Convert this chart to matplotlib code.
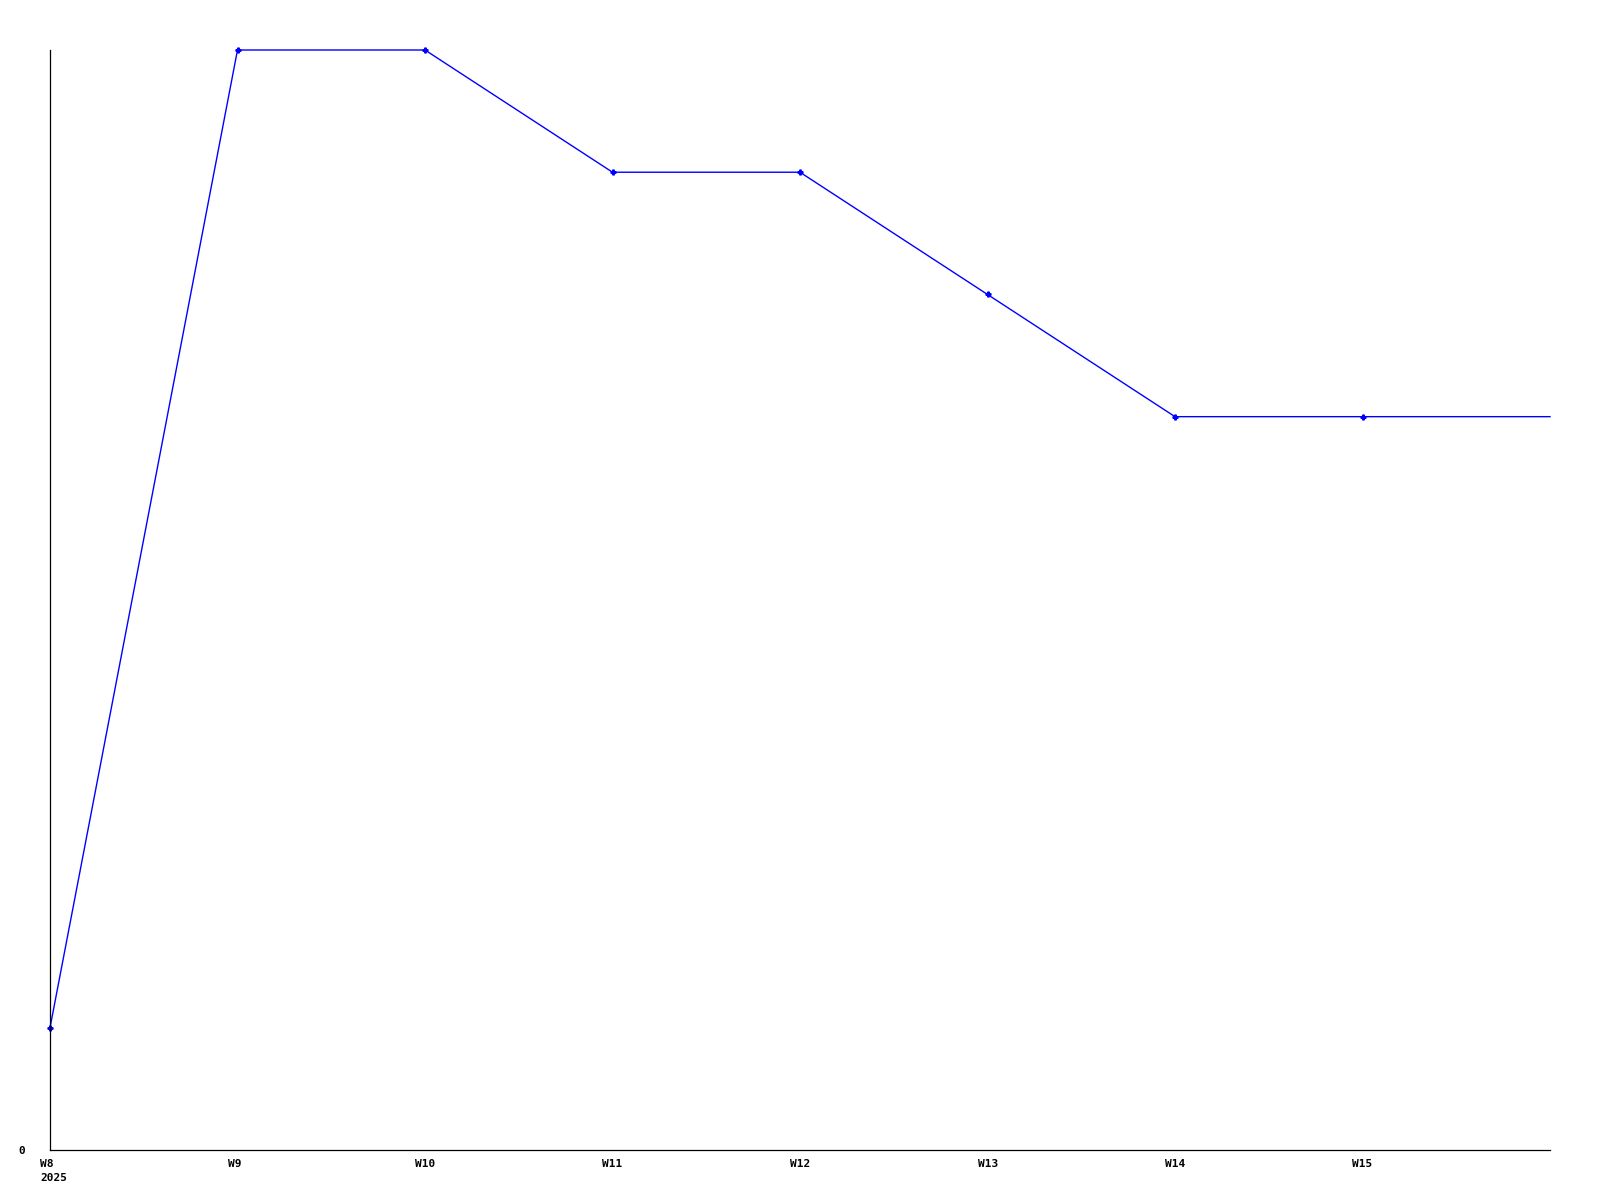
import matplotlib
matplotlib.use("Agg")
import matplotlib.pyplot as plt

weeks = ["W8\n2025", "W9", "W10", "W11", "W12", "W13", "W14", "W15", "W16"]
values = [1, 9, 9, 8, 8, 7, 6, 6, 6]
tick_labels = ["W8\n2025", "W9", "W10", "W11", "W12", "W13", "W14", "W15"]

fig = plt.figure(figsize=(16, 12), dpi=100)
ax = fig.add_axes([50/1600, 50/1200, 1500/1600, 1100/1200])

x = list(range(len(values)))
ax.plot(x, values, color="#0000ff", linewidth=1.0, marker="P", markersize=3.5,
        markevery=list(range(len(tick_labels))), clip_on=False)

ax.set_xlim(0, len(values) - 1)
ax.set_ylim(0, max(values))

for s in ["top", "right"]:
    ax.spines[s].set_visible(False)
for s in ["left", "bottom"]:
    ax.spines[s].set_color("black")
    ax.spines[s].set_linewidth(0.9)

ax.set_xticks(range(len(tick_labels)))
ax.set_xticklabels([])
for i, lab in enumerate(tick_labels):
    ax.annotate(lab, xy=(i, 0), xycoords=("data", "axes fraction"),
                xytext=(-7.2, -6.5), textcoords="offset points",
                ha="left", va="top", fontfamily="DejaVu Sans Mono",
                fontweight="bold", fontsize=8, linespacing=1.5,
                annotation_clip=False)
ax.set_yticks([0])
ax.set_yticklabels(["0"], fontfamily="DejaVu Sans Mono", fontweight="bold", fontsize=8)
ax.tick_params(axis="x", length=0)
ax.tick_params(axis="y", length=0, pad=18)

fig.savefig("out.png", dpi=100, facecolor="white")
